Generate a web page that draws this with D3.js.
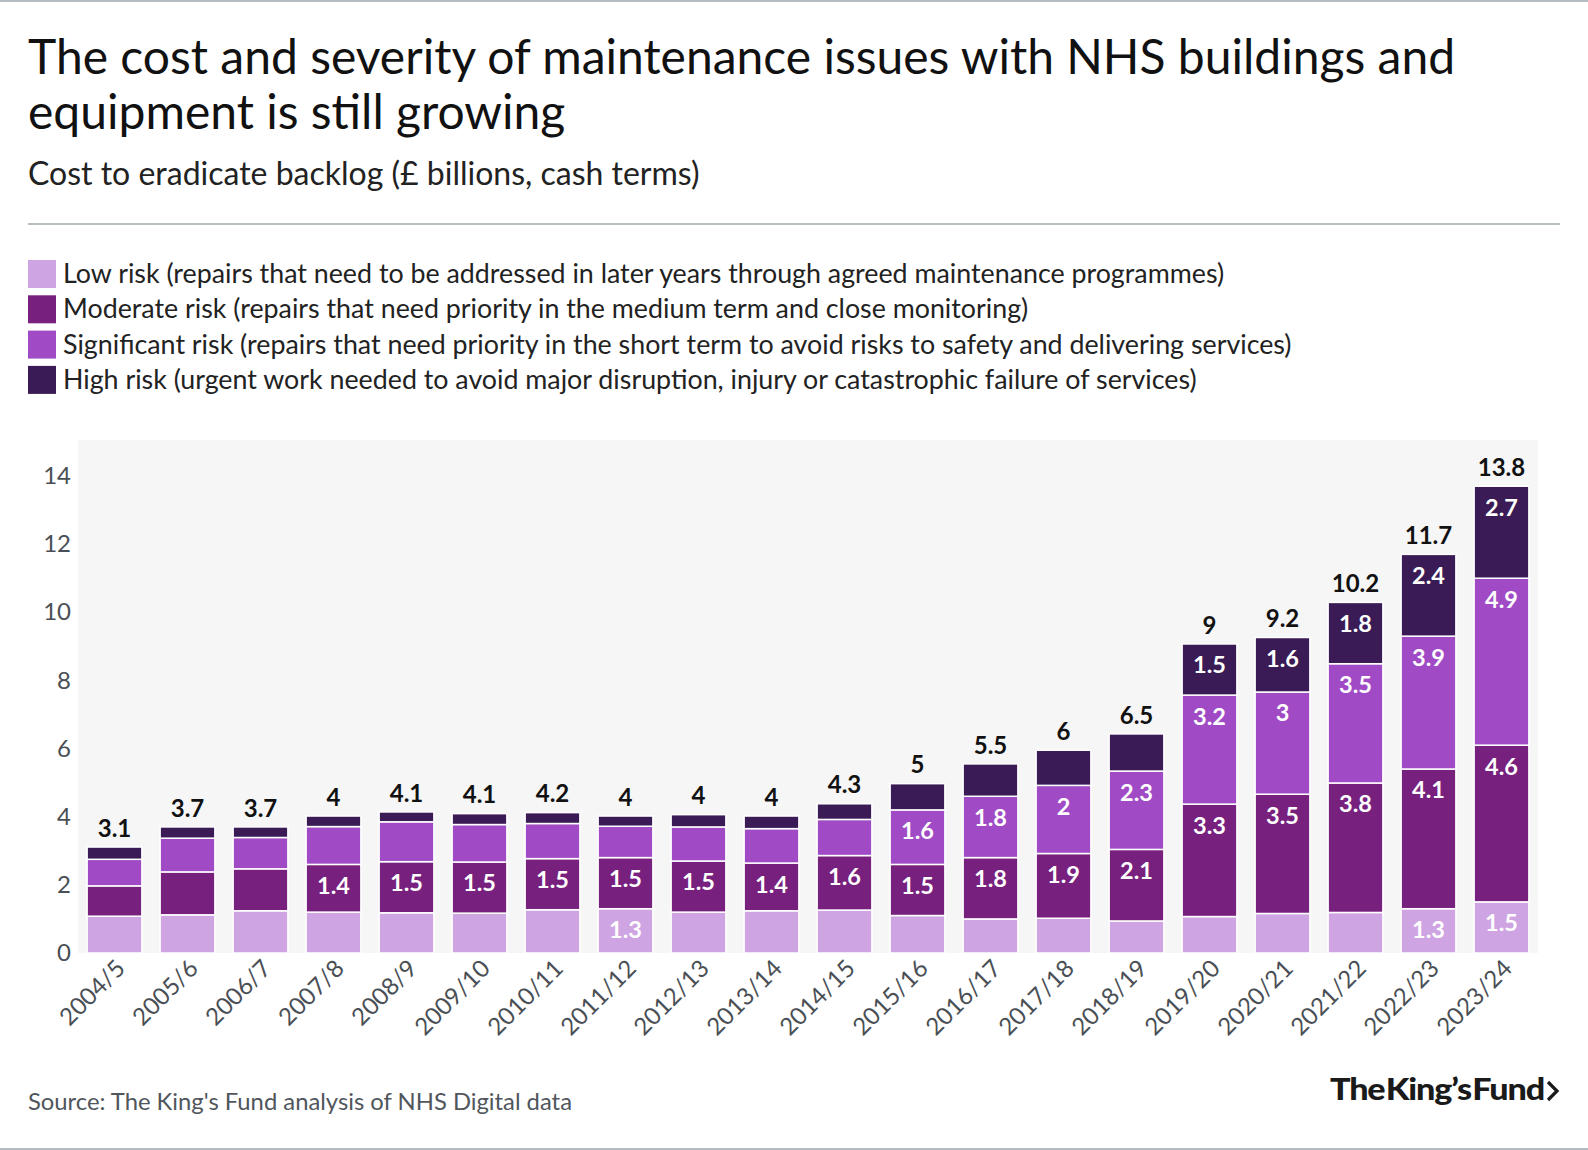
<!DOCTYPE html>
<html>
<head>
<meta charset="utf-8">
<script src="https://cdn.jsdelivr.net/npm/d3@7"></script>
<style>
  body { margin: 0; background: #fff; }
  svg { display: block; font-family: Lato, "Noto Sans", sans-serif; }
</style>
</head>
<body>
<script>

// financial years on the x axis
var years = ["2004/5", "2005/6", "2006/7", "2007/8", "2008/9", "2009/10", "2010/11",
  "2011/12", "2012/13", "2013/14", "2014/15", "2015/16", "2016/17", "2017/18",
  "2018/19", "2019/20", "2020/21", "2021/22", "2022/23", "2023/24"];

// cost to eradicate backlog, £ billions, one array per risk level
var lowRisk = [1.08, 1.12, 1.24, 1.2, 1.18, 1.17, 1.27, 1.3, 1.2, 1.24, 1.26, 1.1, 1.0, 1.02, 0.94, 1.07, 1.16, 1.19, 1.3, 1.5];
var moderateRisk = [0.89, 1.26, 1.23, 1.4, 1.5, 1.5, 1.5, 1.5, 1.5, 1.4, 1.6, 1.5, 1.8, 1.9, 2.1, 3.3, 3.5, 3.8, 4.1, 4.6];
var significantRisk = [0.78, 0.99, 0.92, 1.11, 1.17, 1.1, 1.03, 0.92, 1.0, 1.01, 1.06, 1.6, 1.8, 2.0, 2.3, 3.2, 3.0, 3.5, 3.9, 4.9];
var highRisk = [0.36, 0.33, 0.31, 0.31, 0.29, 0.32, 0.32, 0.3, 0.36, 0.37, 0.46, 0.77, 0.95, 1.03, 1.09, 1.5, 1.6, 1.8, 2.4, 2.7];

// totals printed above each bar
var totals = [3.1, 3.7, 3.7, 4, 4.1, 4.1, 4.2, 4, 4, 4, 4.3, 5, 5.5, 6, 6.5, 9, 9.2, 10.2, 11.7, 13.8];

var yTicks = [0, 2, 4, 6, 8, 10, 12, 14];

var seriesNames = [
  "Low risk (repairs that need to be addressed in later years through agreed maintenance programmes)",
  "Moderate risk (repairs that need priority in the medium term and close monitoring)",
  "Significant risk (repairs that need priority in the short term to avoid risks to safety and delivering services)",
  "High risk (urgent work needed to avoid major disruption, injury or catastrophic failure of services)"
];
var seriesKeys = ["low", "moderate", "significant", "high"];
var seriesColors = ["#cfa4e2", "#77207e", "#a04bc5", "#3a1b55"];

var width = 1588, height = 1150;

var svg = d3.select("body").append("svg")
    .attr("width", width)
    .attr("height", height);

// grey rules at top and bottom of the graphic
svg.append("rect").attr("x", 0).attr("y", 0).attr("width", width).attr("height", 2).attr("fill", "#b3bcc0");
svg.append("rect").attr("x", 0).attr("y", height - 2).attr("width", width).attr("height", 2).attr("fill", "#b3bcc0");

// title + subtitle
var title = svg.append("text")
    .attr("x", 28)
    .attr("y", 74)
    .attr("font-size", 48)
    .attr("fill", "#111");
title.append("tspan").attr("x", 28).text("The cost and severity of maintenance issues with NHS buildings and");
title.append("tspan").attr("x", 28).attr("dy", 55).text("equipment is still growing");

svg.append("text")
    .attr("x", 28)
    .attr("y", 185)
    .attr("font-size", 32)
    .attr("fill", "#222")
    .text("Cost to eradicate backlog (£ billions, cash terms)");

svg.append("line")
    .attr("x1", 28).attr("x2", 1560)
    .attr("y1", 224).attr("y2", 224)
    .attr("stroke", "#b6bec2")
    .attr("stroke-width", 2);

// legend
var legend = svg.append("g").attr("transform", "translate(28,260)");
seriesNames.forEach(function(name, i) {
  var row = legend.append("g").attr("transform", "translate(0," + (i * 35.3) + ")");
  row.append("rect").attr("width", 28).attr("height", 28).attr("fill", seriesColors[i]);
  row.append("text")
      .attr("x", 35)
      .attr("y", 23)
      .attr("font-size", 26.8)
      .attr("fill", "#222")
      .text(name);
});

// plot area
var plot = {left: 78, right: 1538, top: 440, bottom: 953};

svg.append("rect")
    .attr("x", plot.left)
    .attr("y", plot.top)
    .attr("width", plot.right - plot.left)
    .attr("height", plot.bottom - plot.top)
    .attr("fill", "#f6f6f6");

var xScale = d3.scaleBand()
    .domain(years)
    .range([plot.left, plot.right])
    .paddingInner(0.25)
    .paddingOuter(0.125);

var yScale = d3.scaleLinear()
    .domain([0, 14])
    .range([plot.bottom, 476]);

// table for the stack
var table = years.map(function(y, i) {
  return {year: y, low: lowRisk[i], moderate: moderateRisk[i], significant: significantRisk[i], high: highRisk[i], total: totals[i]};
});

var stacked = d3.stack().keys(seriesKeys)(table);

var layers = svg.append("g").selectAll("g")
    .data(stacked)
    .join("g")
      .attr("fill", function(d, i) { return seriesColors[i]; });

layers.selectAll("rect")
    .data(function(d) { return d; })
    .join("rect")
      .attr("x", function(d) { return xScale(d.data.year); })
      .attr("y", function(d) { return yScale(d[1]); })
      .attr("width", xScale.bandwidth())
      .attr("height", function(d) { return yScale(d[0]) - yScale(d[1]); })
      .attr("stroke", "#fff")
      .attr("stroke-width", 1.5);

// value labels inside segments (only the bigger ones are labelled)
layers.selectAll("text")
    .data(function(d) { return d.filter(function(s) { return s[1] - s[0] >= 1.295; }); })
    .join("text")
      .attr("x", function(d) { return xScale(d.data.year) + xScale.bandwidth() / 2; })
      .attr("y", function(d) {
        var top = yScale(d[1]), h = yScale(d[0]) - top;
        return top + Math.min(h / 2, 21);
      })
      .attr("dy", "0.36em")
      .attr("text-anchor", "middle")
      .attr("font-size", 23.5)
      .attr("font-weight", 700)
      .attr("fill", "#fff")
      .text(function(d) { return d3.format(".1f")(d[1] - d[0]).replace(/\.0$/, ""); });

// totals above bars
var lastLayer = stacked[stacked.length - 1];
svg.append("g").selectAll("text")
    .data(lastLayer)
    .join("text")
      .attr("x", function(d) { return xScale(d.data.year) + xScale.bandwidth() / 2; })
      .attr("y", function(d) { return yScale(d[1]) - 19; })
      .attr("dy", "0.36em")
      .attr("text-anchor", "middle")
      .attr("font-size", 24)
      .attr("font-weight", 700)
      .attr("fill", "#111")
      .text(function(d) { return d.data.total; });

// y axis, labels only
var yAxis = svg.append("g")
    .attr("transform", "translate(" + (plot.left - 7) + ",0)")
    .call(d3.axisLeft(yScale).tickValues(yTicks).tickSize(0).tickPadding(0));
yAxis.select(".domain").remove();
yAxis.selectAll("text")
    .attr("font-family", "Lato, sans-serif")
    .attr("font-size", 24)
    .attr("fill", "#4a4f55");

// x axis, rotated labels
var xAxis = svg.append("g")
    .attr("transform", "translate(0," + plot.bottom + ")")
    .call(d3.axisBottom(xScale).tickSize(0).tickPadding(0));
xAxis.select(".domain").remove();
xAxis.selectAll("text")
    .attr("font-family", "Lato, sans-serif")
    .attr("font-size", 24)
    .attr("fill", "#4a4f55")
    .attr("text-anchor", "end")
    .attr("dy", null)
    .attr("y", null)
    .attr("transform", "translate(12,17) rotate(-45)");

// source + logo
svg.append("text")
    .attr("x", 28)
    .attr("y", 1110)
    .attr("font-size", 23.8)
    .attr("fill", "#50565c")
    .text("Source: The King's Fund analysis of NHS Digital data");

svg.append("text")
    .attr("x", 1330)
    .attr("y", 1100)
    .attr("font-size", 30)
    .attr("font-weight", 900)
    .attr("fill", "#1a1a1a")
    .attr("textLength", 214)
    .attr("lengthAdjust", "spacingAndGlyphs")
    .attr("letter-spacing", -1)
    .attr("word-spacing", -5)
    .text("The King’s Fund");

svg.append("path")
    .attr("d", "M1548,1082 L1557,1091 L1548,1100")
    .attr("fill", "none")
    .attr("stroke", "#1a1a1a")
    .attr("stroke-width", 3.2);

</script>
</body>
</html>
